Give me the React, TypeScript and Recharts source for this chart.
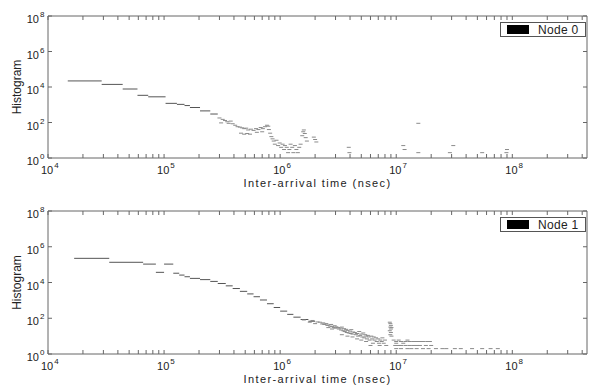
import React from "react";
import {
  ComposedChart,
  Line,
  Scatter,
  XAxis,
  YAxis,
  ReferenceArea,
  Legend,
  Label,
} from "recharts";

const FONT = '"Liberation Sans", Arial, Helvetica, sans-serif';
const AXIS = "#666";
const RUN = "#555";
const DOT = "#8a8a8a";
const TEXT = "#222";

const PLOT_LEFT = 48;
const PLOT_RIGHT = 587;

const xMajorTicks = [1e4, 1e5, 1e6, 1e7, 1e8];
const yMajorTicks = [1, 1e2, 1e4, 1e6, 1e8];
const X_MAX = 4.4e8;

// minor ticks 2..9 per decade
const xAllTicks: number[] = [];
xMajorTicks.forEach((m) => {
  for (let k = 1; k <= 9; k++) if (m * k <= X_MAX) xAllTicks.push(m * k);
});

type Run = [number, number, number]; // [bin start, bin end, count]
type Pt = [number, number]; // [time, count]

const node0Runs: Run[] = [
  [1.48e4, 2.9e4, 22000],
  [2.9e4, 4.4e4, 14000],
  [4.4e4, 5.9e4, 7700],
  [5.9e4, 7.3e4, 3400],
  [7.3e4, 1.03e5, 2800],
  [1.03e5, 1.29e5, 1200],
  [1.29e5, 1.5e5, 1050],
  [1.5e5, 1.67e5, 900],
  [1.67e5, 2.04e5, 700],
  [2.04e5, 2.5e5, 450],
  [2.5e5, 2.9e5, 300],
];

const node0Points: Pt[] = [
  [3.0e5, 180], [3.1e5, 95], [3.2e5, 150], [3.35e5, 130], [3.5e5, 110],
  [3.6e5, 90], [3.75e5, 120], [3.9e5, 85], [4.1e5, 70], [4.3e5, 58],
  [4.5e5, 55], [4.7e5, 50], [4.9e5, 45], [5.1e5, 48], [4.6e5, 25],
  [4.9e5, 22], [5.2e5, 24], [5.5e5, 22], [5.3e5, 38], [5.6e5, 42],
  [5.9e5, 36], [6.2e5, 45], [6.5e5, 40], [6.8e5, 52], [7.1e5, 45],
  [7.4e5, 58], [7.7e5, 70], [7.9e5, 62], [6.3e5, 28], [7.0e5, 30],
  [8.0e5, 40], [8.2e5, 25], [8.4e5, 16], [8.6e5, 12], [8.8e5, 9],
  [9.0e5, 6], [9.3e5, 10], [9.6e5, 5], [9.9e5, 7], [1.02e6, 4],
  [1.05e6, 6], [1.08e6, 3], [1.1e6, 5], [1.14e6, 4], [1.17e6, 2],
  [1.2e6, 3], [1.23e6, 6], [1.27e6, 4], [1.3e6, 2], [1.34e6, 5],
  [1.38e6, 3], [1.42e6, 2], [1.46e6, 4], [1.5e6, 6], [1.55e6, 18],
  [1.58e6, 30], [1.6e6, 38], [1.63e6, 24], [1.66e6, 14], [1.7e6, 9],
  [1.95e6, 15], [2.0e6, 11], [2.05e6, 8], [3.9e6, 4], [3.95e6, 2],
  [1.15e7, 5], [1.18e7, 3], [1.55e7, 90], [1.55e7, 2], [2.9e7, 2],
  [3.1e7, 5], [5.5e7, 2], [8.9e7, 2], [9.0e7, 3],
];

const node1Runs: Run[] = [
  [1.68e4, 3.37e4, 225000],
  [3.37e4, 6.6e4, 135000],
  [6.6e4, 8.5e4, 107000],
  [8.5e4, 1.0e5, 37000],
  [1.0e5, 1.2e5, 107000],
  [1.2e5, 1.35e5, 33000],
  [1.35e5, 1.5e5, 26000],
  [1.5e5, 1.67e5, 21000],
  [1.67e5, 2.04e5, 17000],
  [2.04e5, 2.5e5, 14500],
  [2.5e5, 2.9e5, 11500],
  [2.9e5, 3.4e5, 8800],
  [3.4e5, 3.9e5, 6500],
  [3.9e5, 4.5e5, 4600],
  [4.5e5, 5.2e5, 3200],
  [5.2e5, 5.9e5, 2300],
  [5.9e5, 6.7e5, 1600],
  [6.7e5, 7.7e5, 1050],
  [7.7e5, 8.8e5, 650],
  [8.8e5, 1.0e6, 400],
  [1.0e6, 1.15e6, 250],
  [1.15e6, 1.3e6, 165],
  [1.3e6, 1.5e6, 115],
  [1.5e6, 1.75e6, 85],
  [1.75e6, 2.0e6, 68],
];

const node1Points: Pt[] = [
  [1.6e6, 80], [1.8e6, 60], [1.9e6, 75], [2.0e6, 50], [2.1e6, 62],
  [2.2e6, 60], [2.3e6, 48], [2.35e6, 55], [2.4e6, 45], [2.5e6, 50],
  [2.55e6, 40], [2.6e6, 42], [2.7e6, 36], [2.75e6, 45], [2.8e6, 34],
  [2.9e6, 30], [2.95e6, 38], [3.0e6, 28], [3.05e6, 33], [2.6e6, 30],
  [2.8e6, 25], [3.15e6, 30], [3.2e6, 25], [3.3e6, 28], [3.35e6, 22],
  [3.4e6, 32], [3.5e6, 20], [3.55e6, 26], [3.6e6, 18], [3.7e6, 24],
  [3.75e6, 16], [3.8e6, 21], [3.9e6, 15], [4.0e6, 19], [4.05e6, 14],
  [4.1e6, 23], [4.2e6, 13], [4.25e6, 17], [3.4e6, 12], [3.8e6, 10],
  [4.2e6, 9], [4.4e6, 16], [4.5e6, 12], [4.6e6, 14], [4.7e6, 10],
  [4.8e6, 18], [4.9e6, 11], [5.0e6, 13], [5.1e6, 9], [5.2e6, 15],
  [5.3e6, 8], [5.4e6, 12], [5.5e6, 10], [5.6e6, 7], [5.7e6, 11],
  [5.8e6, 9], [5.9e6, 6], [4.6e6, 7], [5.0e6, 6], [5.5e6, 5],
  [6.1e6, 10], [6.2e6, 7], [6.4e6, 9], [6.5e6, 6], [6.7e6, 8],
  [6.8e6, 5], [7.0e6, 7], [7.1e6, 4], [7.3e6, 6], [7.5e6, 5],
  [7.6e6, 8], [7.8e6, 4], [8.0e6, 6], [8.2e6, 3], [6.3e6, 4],
  [7.2e6, 3], [6.0e6, 3], [8.8e6, 60], [8.9e6, 50], [9.0e6, 40],
  [8.9e6, 32], [9.0e6, 25], [9.1e6, 30], [8.8e6, 20], [9.0e6, 16],
  [8.9e6, 12], [9.1e6, 10], [9.5e6, 6], [1.0e7, 5], [1.05e7, 6],
  [1.1e7, 5], [1.2e7, 5], [1.25e7, 6], [1.3e7, 5], [1.4e7, 5],
  [1.5e7, 5], [1.6e7, 5], [1.7e7, 5], [1.85e7, 5], [1.95e7, 5],
  [9.8e6, 3], [1.05e7, 3], [1.1e7, 3], [1.2e7, 3], [1.3e7, 3],
  [1.4e7, 3], [1.5e7, 3], [1.6e7, 3], [1.8e7, 3], [2.0e7, 3],
  [1.0e7, 2], [1.1e7, 2], [1.25e7, 2], [1.35e7, 2], [1.5e7, 2],
  [1.7e7, 2], [1.9e7, 2], [2.2e7, 2], [2.5e7, 2], [2.7e7, 2],
  [3.2e7, 2], [3.6e7, 2], [4.5e7, 2], [5.5e7, 2], [6.5e7, 2],
  [7.5e7, 2], [1.0e7, 4], [1.15e7, 4],
];

const Dash = (p: any) => (
  <line x1={p.cx - 2} x2={p.cx + 2} y1={p.cy} y2={p.cy} stroke={DOT} strokeWidth={1} />
);

interface PanelProps {
  name: string;
  runs: Run[];
  points: Pt[];
  height: number;
  plotTop: number;
  plotBottom: number;
  legendTop: number;
}

function Panel({ name, runs, points, height, plotTop, plotBottom, legendTop }: PanelProps) {
  const lineData: Array<{ x: number; y: number | null }> = [];
  runs.forEach(([a, b, c]) => {
    lineData.push({ x: a, y: c }, { x: b, y: c }, { x: b, y: null });
  });
  const dotData = points.map(([x, y]) => ({ x, y }));

  const XTick = (p: any) => {
    const x = p.x;
    const v = p.payload.value;
    const major = xMajorTicks.includes(v);
    return (
      <g>
        <line x1={x} x2={x} y1={plotBottom} y2={plotBottom - 4} stroke={AXIS} />
        <line x1={x} x2={x} y1={plotTop} y2={plotTop + 4} stroke={AXIS} />
        {major && (
          <text x={x - 7} y={plotBottom + 16} fontSize={11} fontFamily={FONT} fill={TEXT}>
            10
            <tspan fontSize={8} dx={1} dy={-6}>
              {Math.round(Math.log10(v))}
            </tspan>
          </text>
        )}
      </g>
    );
  };

  const YTick = (p: any) => {
    const y = p.y;
    const v = p.payload.value;
    return (
      <g>
        <line x1={PLOT_LEFT} x2={PLOT_LEFT + 4} y1={y} y2={y} stroke={AXIS} />
        <line x1={PLOT_RIGHT - 4} x2={PLOT_RIGHT} y1={y} y2={y} stroke={AXIS} />
        <text x={PLOT_LEFT - 9} y={y + 7} textAnchor="end" fontSize={11} fontFamily={FONT} fill={TEXT}>
          10
        </text>
        <text x={PLOT_LEFT - 8} y={y + 1} fontSize={8} fontFamily={FONT} fill={TEXT}>
          {Math.round(Math.log10(v))}
        </text>
      </g>
    );
  };

  const midY = (plotTop + plotBottom) / 2;

  return (
    <ComposedChart
      width={590}
      height={height}
      margin={{ top: plotTop, right: 590 - PLOT_RIGHT, bottom: 0, left: 8 }}
    >
      <XAxis
        dataKey="x"
        type="number"
        scale="log"
        domain={[1e4, X_MAX]}
        allowDataOverflow
        ticks={xAllTicks}
        interval={0}
        tick={XTick}
        tickLine={false}
        axisLine={false}
        tickSize={0}
        height={height - plotBottom}
      >
        <Label
          content={() => (
            <text
              x={(PLOT_LEFT + PLOT_RIGHT) / 2}
              y={plotBottom + 29}
              textAnchor="middle"
              fontSize={11}
              letterSpacing={1.4}
              fontFamily={FONT}
              fill={TEXT}
            >
              Inter-arrival time (nsec)
            </text>
          )}
        />
      </XAxis>
      <YAxis
        dataKey="y"
        type="number"
        scale="log"
        domain={[1, 1e8]}
        allowDataOverflow
        ticks={yMajorTicks}
        interval={0}
        tick={YTick}
        tickLine={false}
        axisLine={false}
        tickSize={0}
        width={40}
      >
        <Label
          content={() => (
            <text
              x={21}
              y={midY}
              transform={`rotate(-90 21 ${midY})`}
              textAnchor="middle"
              fontSize={12}
              fontFamily={FONT}
              fill={TEXT}
            >
              Histogram
            </text>
          )}
        />
      </YAxis>
      <ReferenceArea
        x1={1e4}
        x2={X_MAX}
        y1={1}
        y2={1e8}
        fill="none"
        fillOpacity={0}
        stroke={AXIS}
        strokeWidth={1}
        ifOverflow="visible"
      />
      <Line
        data={lineData}
        dataKey="y"
        stroke={RUN}
        strokeWidth={1}
        dot={false}
        activeDot={false}
        connectNulls={false}
        isAnimationActive={false}
      />
      <Scatter data={dotData} dataKey="y" shape={Dash} isAnimationActive={false} />
      <Legend
        layout="horizontal"
        verticalAlign="middle"
        align="center"
        wrapperStyle={{ left: 500, top: legendTop, width: 86, height: 15 }}
        content={() => (
          <div
            style={{
              boxSizing: "border-box",
              width: 86,
              height: 15,
              border: "1px solid #555",
              background: "#fff",
              display: "flex",
              alignItems: "center",
              fontFamily: FONT,
              fontSize: 12,
              color: TEXT,
            }}
          >
            <span
              style={{ display: "inline-block", width: 22, height: 9, background: "#000", marginLeft: 6, marginRight: 9 }}
            />
            <span style={{ letterSpacing: 0.3 }}>{name}</span>
          </div>
        )}
      />
    </ComposedChart>
  );
}

export default function App() {
  return (
    <div style={{ position: "absolute", left: 0, top: 0, width: 590, height: 385, background: "#fff", fontFamily: FONT }}>
      <div style={{ position: "absolute", left: 0, top: 0 }}>
        <Panel name="Node 0" runs={node0Runs} points={node0Points} height={192} plotTop={16} plotBottom={158} legendTop={22} />
      </div>
      <div style={{ position: "absolute", left: 0, top: 192 }}>
        <Panel name="Node 1" runs={node1Runs} points={node1Points} height={193} plotTop={19} plotBottom={162} legendTop={25} />
      </div>
    </div>
  );
}
